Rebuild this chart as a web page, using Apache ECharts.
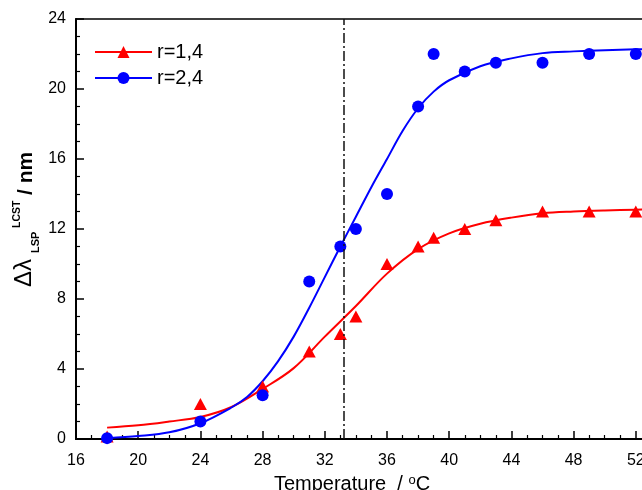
<!DOCTYPE html>
<html><head><meta charset="utf-8">
<script src="https://cdn.jsdelivr.net/npm/echarts@6/dist/echarts.min.js"></script>
<style>html,body{margin:0;padding:0;background:#fff}#c{width:642px;height:490px}</style>
</head><body><div id="c"></div>
<script>
// measured points
const tempR = [18, 24, 28, 31, 33, 34, 36, 38, 39, 41, 43, 46, 49, 52];
const valR  = [0.15, 2.0, 3.0, 5.0, 6.0, 7.0, 10.0, 11.0, 11.5, 12.0, 12.5, 13.0, 13.0, 13.0];
const tempB = [18, 24, 28, 31, 33, 34, 36, 38, 39, 41, 43, 46, 49, 52];
const valB  = [0.05, 1.0, 2.5, 9.0, 11.0, 12.0, 14.0, 19.0, 22.0, 21.0, 21.5, 21.5, 22.0, 22.0];
// fitted curves
const fitRX = [18, 20, 22, 24, 26, 28, 30, 32, 34, 36, 38, 40, 42, 44, 46, 48, 50, 52, 53];
const fitRY = [0.65, 0.78, 1.0, 1.26, 1.83, 2.86, 4.05, 5.85, 7.6, 9.45, 10.85, 11.75, 12.3, 12.65, 12.9, 13.0, 13.06, 13.1, 13.12];
const fitBX = [18, 20, 22, 24, 26, 27, 28, 29, 30, 31, 32, 33, 34, 35, 36, 37, 38, 39, 40, 42, 44, 46, 48, 50, 52, 53];
const fitBY = [0.05, 0.17, 0.38, 0.9, 1.8, 2.4, 3.3, 4.45, 5.85, 7.5, 9.25, 11.0, 12.7, 14.4, 16.0, 17.6, 18.9, 19.85, 20.5, 21.3, 21.75, 22.05, 22.15, 22.22, 22.27, 22.28];
const lcstTemp = 33.2;
const seriesNames = ['r=1,4', 'r=2,4'];
const xMin = 16, xMax = 56, xStep = 4;
const yMin = 0, yMax = 24, yStep = 4;

const FONT = '"Liberation Sans", Arial, sans-serif';
const zip = (a, b) => a.map((v, i) => [v, b[i]]);
const chart = echarts.init(document.getElementById('c'), null, {renderer: 'canvas'});
const axisCommon = {
  axisLine: {show: true, onZero: false, lineStyle: {color: '#000', width: 2}},
  axisTick: {show: true, inside: true, length: 8, lineStyle: {color: '#000', width: 1.5}},
  minorTick: {show: true, splitNumber: 4, length: 4, lineStyle: {color: '#000', width: 1.2}},
  splitLine: {show: false},
  axisLabel: {color: '#000', fontSize: 16, fontFamily: FONT}
};
chart.setOption({
  animation: false,
  backgroundColor: '#fff',
  grid: {left: 76, top: 19, width: 622, height: 420, containLabel: false, outerBoundsMode: 'none',
    show: true, borderColor: '#000', borderWidth: 1.5, backgroundColor: 'transparent'},
  legend: {
    data: seriesNames,
    orient: 'vertical', left: 89, top: 37,
    itemWidth: 57, itemHeight: 15, itemGap: 6,
    textStyle: {fontSize: 20, fontFamily: FONT, color: '#000', lineHeight: 20},
    selectedMode: false
  },
  xAxis: Object.assign({}, axisCommon, {
    type: 'value', min: xMin, max: xMax, interval: xStep,
    name: 'Temperature  / {sup|o}C', nameLocation: 'middle', nameGap: 31,
    nameTextStyle: {fontSize: 20, fontFamily: FONT, color: '#000', padding: [0, 70, 0, 0],
      rich: {sup: {fontSize: 13, fontFamily: FONT, color: '#000', verticalAlign: 'top', padding: [0, 0, 8, 0]}}},
    axisLabel: Object.assign({}, axisCommon.axisLabel, {margin: 14})
  }),
  yAxis: Object.assign({}, axisCommon, {
    type: 'value', min: yMin, max: yMax, interval: yStep,
    axisLabel: Object.assign({}, axisCommon.axisLabel, {margin: 10})
  }),
  graphic: [{
    type: 'group', x: 24, y: 287, rotation: Math.PI / 2, silent: true,
    children: [
      {type: 'text', x: 0, y: 0, style: {text: 'Δλ', font: '24px ' + FONT, fill: '#000', align: 'left', verticalAlign: 'middle'}},
      {type: 'text', x: 34, y: 12, style: {text: 'LSP', font: 'bold 11px ' + FONT, fill: '#000', align: 'left', verticalAlign: 'middle'}},
      {type: 'text', x: 59, y: -7, style: {text: 'LCST', font: 'bold 10.5px ' + FONT, fill: '#000', align: 'left', verticalAlign: 'middle'}},
      {type: 'text', x: 92, y: 2, style: {text: '/ nm', font: 'bold 21px ' + FONT, fill: '#000', align: 'left', verticalAlign: 'middle'}}
    ]
  }],
  series: [
    {name: seriesNames[0], type: 'line', data: zip(fitRX, fitRY), smooth: 0.35, showSymbol: false, symbol: 'triangle',
      lineStyle: {color: '#ff0000', width: 2}, itemStyle: {color: '#ff0000'}, z: 2,
      markLine: {silent: true, symbol: 'none', label: {show: false},
        lineStyle: {color: '#111', width: 1.5, type: [10, 3, 2, 3]},
        data: [{xAxis: lcstTemp}]}},
    {name: seriesNames[1], type: 'line', data: zip(fitBX, fitBY), smooth: 0.35, showSymbol: false, symbol: 'circle',
      lineStyle: {color: '#0000ff', width: 2}, itemStyle: {color: '#0000ff'}, z: 2},
    {name: seriesNames[0] + ' data', type: 'scatter', data: zip(tempR, valR), symbol: 'triangle', symbolSize: [13, 12],
      itemStyle: {color: '#ff0000', opacity: 1}, z: 3},
    {name: seriesNames[1] + ' data', type: 'scatter', data: zip(tempB, valB), symbol: 'circle', symbolSize: 12,
      itemStyle: {color: '#0000ff', opacity: 1}, z: 4}
  ]
});
</script></body></html>
